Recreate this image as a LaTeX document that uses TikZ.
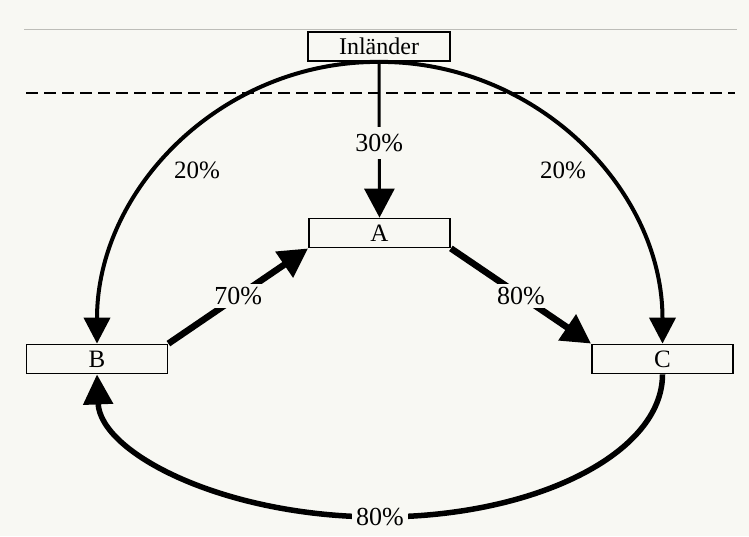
\documentclass[tikz,border=0pt]{standalone}
\usepackage{fontspec}
\setmainfont{Liberation Serif}
\usetikzlibrary{arrows.meta}
\definecolor{bg}{HTML}{F8F8F3}
\definecolor{rule}{HTML}{BDBDB8}
\begin{document}
\begin{tikzpicture}[x=1pt,y=-1pt,
  box/.style={draw,line width=1.8pt,fill=bg,minimum width=141pt,minimum height=29pt,inner sep=0pt,font=\fontsize{25}{25}\selectfont},
  pct/.style={font=\fontsize{26}{26}\selectfont,fill=bg,inner sep=3pt},
  lbl/.style={font=\fontsize{25}{25}\selectfont,inner sep=0pt},
  bigtip/.style={-{Triangle[length=29pt,width=30pt]}},
  arctip/.style={-{Triangle[length=26pt,width=26pt]}}]
\fill[bg] (0,0) rectangle (749,536);
\useasboundingbox (0,0) rectangle (749,536);
% top rule and dashed border line
\draw[rule,line width=1pt] (24,29) -- (737,29);
\draw[line width=2.2pt,dash pattern=on 12pt off 6pt] (26,93) -- (735,93);
% nodes
\node[box,minimum width=142pt,font=\fontsize{24}{24}\selectfont] (inl) at (379,46.5) {Inländer};
\node[box] (A) at (379.5,233) {A};
\node[box] (B) at (97,359) {B};
\node[box] (C) at (662.5,359) {C};
% arcs from Inländer
\draw[line width=4pt,arctip] (inl.south) .. controls (223,61) and (97,188) .. (B.north);
\draw[line width=4pt,arctip] (inl.south) .. controls (535,61) and (662.5,188) .. (C.north);
\node[lbl] (l20a) at (197,170) {20\%};
\node[lbl] (l20b) at (563,170) {20\%};
% Inländer -> A
\draw[line width=3pt,bigtip] (inl.south) -- node[pct,inner ysep=7pt,pos=0.52]{30\%} (A.north);
% B -> A and A -> C
\draw[line width=6.5pt,bigtip] (B.north east) -- node[pct]{70\%} (A.south west);
\draw[line width=6.5pt,bigtip] (A.south east) -- node[pct]{80\%} (C.north west);
% C -> B bottom arc
\draw[line width=5.5pt,-{Triangle[length=30pt,width=29pt]}] (C.south) .. controls (662.5,453) and (536,517) .. (380,517) node[pct,inner xsep=4pt]{80\%} .. controls (224,517) and (100,453) .. (B.south);
\end{tikzpicture}
\end{document}
